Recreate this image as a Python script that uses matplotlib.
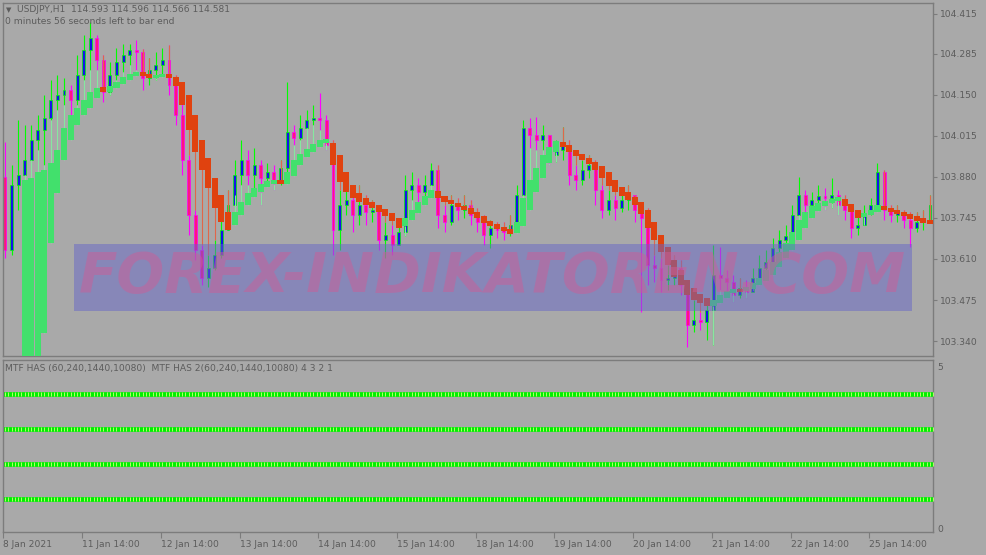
import numpy as np
import matplotlib.pyplot as plt
from matplotlib.patches import Rectangle

# USDJPY H1 chart (one entry = one 2-hour step)
first_open = 103.879
close = [103.639, 103.853, 103.886, 103.935, 104.001, 104.034, 104.073, 104.132, 104.149, 104.165,
         104.132, 104.214, 104.297, 104.336, 104.264, 104.159, 104.214, 104.257, 104.280, 104.297,
         104.290, 104.205, 104.231, 104.247, 104.264, 104.182, 104.083, 103.935, 103.754, 103.639,
         103.547, 103.580, 103.623, 103.705, 103.787, 103.886, 103.935, 103.886, 103.919, 103.876,
         103.896, 103.869, 103.909, 104.027, 104.007, 104.040, 104.067, 104.073, 104.067, 103.984,
         103.705, 103.787, 103.804, 103.754, 103.787, 103.764, 103.771, 103.672, 103.688, 103.656,
         103.698, 103.836, 103.853, 103.830, 103.853, 103.902, 103.754, 103.731, 103.787, 103.771,
         103.787, 103.754, 103.731, 103.688, 103.711, 103.705, 103.698, 103.721, 103.820, 104.040,
         104.017, 104.001, 104.017, 103.952, 103.968, 103.984, 103.886, 103.869, 103.902, 103.919,
         103.836, 103.771, 103.804, 103.777, 103.804, 103.820, 103.771, 103.744, 103.590, 103.580,
         103.541, 103.547, 103.580, 103.524, 103.393, 103.409, 103.403, 103.442, 103.557, 103.547,
         103.534, 103.491, 103.514, 103.501, 103.547, 103.580, 103.600, 103.646, 103.672, 103.685,
         103.754, 103.820, 103.787, 103.804, 103.817, 103.810, 103.820, 103.787, 103.771, 103.711,
         103.721, 103.761, 103.787, 103.896, 103.771, 103.754, 103.764, 103.738, 103.711, 103.731,
         103.738, 103.787]
high = [103.994, 103.919, 104.067, 104.050, 104.050, 104.083, 104.149, 104.198, 104.214, 104.205,
        104.182, 104.280, 104.346, 104.389, 104.346, 104.280, 104.257, 104.303, 104.316, 104.316,
        104.330, 104.300, 104.270, 104.290, 104.303, 104.313, 104.214, 104.149, 103.952, 103.771,
        103.656, 103.623, 103.672, 103.754, 103.836, 103.935, 104.001, 103.968, 103.975, 103.935,
        103.925, 103.919, 103.935, 104.191, 104.050, 104.083, 104.099, 104.116, 104.155, 104.083,
        104.001, 103.836, 103.853, 103.820, 103.853, 103.820, 103.804, 103.787, 103.731, 103.721,
        103.731, 103.886, 103.896, 103.876, 103.886, 103.925, 103.919, 103.787, 103.820, 103.810,
        103.820, 103.804, 103.777, 103.754, 103.738, 103.731, 103.731, 103.754, 103.853, 104.067,
        104.073, 104.076, 104.050, 104.017, 104.001, 104.044, 104.001, 103.919, 103.935, 103.952,
        103.935, 103.853, 103.836, 103.820, 103.836, 103.853, 103.820, 103.787, 103.777, 103.623,
        103.613, 103.590, 103.623, 103.606, 103.530, 103.475, 103.436, 103.475, 103.656, 103.649,
        103.574, 103.557, 103.547, 103.541, 103.580, 103.623, 103.639, 103.679, 103.705, 103.721,
        103.787, 103.879, 103.836, 103.830, 103.853, 103.843, 103.876, 103.836, 103.820, 103.787,
        103.764, 103.787, 103.810, 103.925, 103.902, 103.787, 103.787, 103.771, 103.764, 103.764,
        103.771, 103.820]
low = [103.613, 103.623, 103.771, 103.886, 103.935, 103.968, 103.919, 104.067, 104.099, 104.116,
       104.034, 104.116, 104.198, 104.231, 104.231, 104.126, 104.149, 104.198, 104.224, 104.247,
       104.231, 104.165, 104.182, 104.198, 104.214, 104.149, 104.050, 103.886, 103.688, 103.606,
       103.524, 103.518, 103.574, 103.613, 103.705, 103.820, 103.853, 103.853, 103.836, 103.787,
       103.853, 103.836, 103.853, 103.896, 103.984, 104.001, 104.040, 104.050, 104.034, 103.968,
       103.623, 103.639, 103.754, 103.698, 103.721, 103.721, 103.731, 103.639, 103.613, 103.623,
       103.656, 103.685, 103.804, 103.797, 103.817, 103.853, 103.711, 103.698, 103.720, 103.738,
       103.744, 103.721, 103.698, 103.656, 103.646, 103.679, 103.672, 103.685, 103.705, 103.820,
       103.975, 103.968, 103.968, 103.919, 103.929, 103.935, 103.853, 103.836, 103.853, 103.876,
       103.787, 103.744, 103.754, 103.738, 103.764, 103.771, 103.731, 103.435, 103.524, 103.534,
       103.501, 103.508, 103.524, 103.491, 103.320, 103.370, 103.376, 103.343, 103.327, 103.508,
       103.501, 103.468, 103.481, 103.481, 103.508, 103.534, 103.557, 103.600, 103.613, 103.639,
       103.672, 103.754, 103.764, 103.754, 103.787, 103.771, 103.777, 103.754, 103.738, 103.679,
       103.688, 103.721, 103.754, 103.771, 103.738, 103.731, 103.731, 103.711, 103.649, 103.698,
       103.705, 103.744]

# smoothed heiken ashi bodies (open / close)
has_open = [None, None, None,
            103.146, 103.146, 103.212, 103.366, 103.662, 103.827, 103.935, 104.001, 104.050, 104.083,
            104.106, 104.139, 104.175, 104.159, 104.172, 104.185, 104.198, 104.211, 104.224, 104.218,
            104.205, 104.208, 104.218, 104.208, 104.191, 104.149, 104.083, 104.001, 103.942, 103.876,
            103.820, 103.764, 103.721, 103.754, 103.787, 103.813, 103.830, 103.846, 103.856, 103.869,
            103.856, 103.883, 103.919, 103.945, 103.961, 103.978, 103.991, 103.991, 103.952, 103.896,
            103.853, 103.827, 103.810, 103.797, 103.787, 103.774, 103.761, 103.744, 103.718, 103.738,
            103.761, 103.787, 103.810, 103.833, 103.817, 103.804, 103.794, 103.784, 103.777, 103.764,
            103.751, 103.735, 103.725, 103.715, 103.708, 103.695, 103.718, 103.771, 103.830, 103.876,
            103.925, 103.961, 103.994, 103.984, 103.968, 103.955, 103.942, 103.929, 103.915, 103.896,
            103.869, 103.846, 103.830, 103.813, 103.797, 103.771, 103.731, 103.688, 103.649, 103.606,
            103.574, 103.541, 103.514, 103.495, 103.481, 103.455, 103.465, 103.481, 103.498, 103.511,
            103.504, 103.511, 103.524, 103.537, 103.557, 103.583, 103.613, 103.639, 103.672, 103.711,
            103.744, 103.767, 103.784, 103.794, 103.800, 103.807, 103.790, 103.771, 103.748, 103.754,
            103.764, 103.784, 103.777, 103.771, 103.764, 103.758, 103.751, 103.744, 103.738]
has_close = [None, None, None,
             103.869, 103.876, 103.896, 103.902, 103.925, 103.968, 104.040, 104.083, 104.106, 104.132,
             104.159, 104.172, 104.159, 104.178, 104.191, 104.208, 104.218, 104.224, 104.211, 104.205,
             104.211, 104.218, 104.205, 104.178, 104.116, 104.034, 103.961, 103.902, 103.843, 103.777,
             103.731, 103.705, 103.764, 103.797, 103.827, 103.843, 103.856, 103.866, 103.869, 103.856,
             103.896, 103.935, 103.955, 103.971, 103.988, 104.001, 104.004, 103.919, 103.863, 103.830,
             103.810, 103.797, 103.787, 103.777, 103.764, 103.751, 103.735, 103.711, 103.744, 103.771,
             103.797, 103.817, 103.836, 103.810, 103.797, 103.790, 103.781, 103.771, 103.758, 103.744,
             103.728, 103.718, 103.708, 103.702, 103.692, 103.731, 103.810, 103.869, 103.909, 103.952,
             103.978, 103.998, 103.978, 103.961, 103.948, 103.935, 103.922, 103.902, 103.876, 103.850,
             103.830, 103.817, 103.804, 103.787, 103.758, 103.711, 103.672, 103.633, 103.590, 103.551,
             103.524, 103.491, 103.475, 103.465, 103.455, 103.475, 103.491, 103.504, 103.511, 103.501,
             103.518, 103.531, 103.547, 103.574, 103.600, 103.633, 103.662, 103.698, 103.738, 103.764,
             103.784, 103.794, 103.800, 103.807, 103.813, 103.784, 103.764, 103.744, 103.761, 103.771,
             103.787, 103.771, 103.764, 103.758, 103.751, 103.741, 103.735, 103.728, 103.725]

# MTF HAS sub-window: four signal rows
levels = [4.17, 3.09, 2.01, 0.93]

price_ticks = [104.415, 104.285, 104.150, 104.015, 103.880, 103.745, 103.610, 103.475, 103.340]
date_labels = ['8 Jan 2021', '11 Jan 14:00', '12 Jan 14:00', '13 Jan 14:00', '14 Jan 14:00',
               '15 Jan 14:00', '18 Jan 14:00', '19 Jan 14:00', '20 Jan 14:00', '21 Jan 14:00',
               '22 Jan 14:00', '25 Jan 14:00']
bars_per_day = 12

BG = '#a9a9a9'
FRAME = '#7c7c7c'
TXT = '#5c5c5c'
FS = 6.6

c = np.array(close)
o = np.array([first_open] + close[:-1])
h = np.array(high)
l = np.array(low)
ho = np.array(has_open, dtype=float)
hc = np.array(has_close, dtype=float)
x = np.arange(len(c))

fig = plt.figure(figsize=(9.87, 5.55), dpi=100, facecolor=BG)
ax = fig.add_axes([3 / 987, 1 - 356 / 555, 930 / 987, 353 / 555], facecolor=BG)
ax2 = fig.add_axes([3 / 987, 1 - 532 / 555, 930 / 987, 172 / 555], facecolor=BG, sharex=ax)

# candles
bull = c >= o
bear = ~bull
ax.vlines(x[bull], l[bull], h[bull], colors='#00ff00', lw=0.8, zorder=2)
ax.vlines(x[bear], l[bear], h[bear], colors='#ff00ff', lw=0.8, zorder=2)
ax.bar(x[bull], np.maximum(c[bull] - o[bull], 0.002), bottom=o[bull], width=0.45,
       color='#1414e6', edgecolor='#00ff00', linewidth=0.5, zorder=2)
ax.bar(x[bear], np.maximum(o[bear] - c[bear], 0.002), bottom=c[bear], width=0.45,
       color='#ff1480', edgecolor='#ff00ff', linewidth=0.5, zorder=2)

# smoothed heiken ashi
ok = ~np.isnan(ho)
up = ok & (hc >= ho)
dn = ok & (hc < ho)
ax.vlines(x[up], l[up], ho[up], colors='#86e8a0', lw=0.8, zorder=3)
ax.vlines(x[dn], ho[dn], h[dn], colors='#e0664a', lw=0.8, zorder=3)
ax.bar(x[up], np.maximum(hc[up] - ho[up], 0.009), bottom=ho[up], width=0.92,
       color='#42e06c', linewidth=0, zorder=4)
ax.bar(x[dn], np.maximum(ho[dn] - hc[dn], 0.009), bottom=hc[dn], width=0.92,
       color='#e0420f', linewidth=0, zorder=4)

ax.set_xlim(-0.3, 141.46)
ax.set_ylim(103.291, 104.451)

# watermark
ax.add_patch(Rectangle((0.0763, 0.1275), 0.9011, 0.1898, transform=ax.transAxes,
                       facecolor='#6767c7', alpha=0.5, linewidth=0, zorder=5))
ax.text(0.526, 0.2224, 'FOREX-INDIKATOREN.COM', transform=ax.transAxes,
        ha='center', va='center', fontsize=40.5, fontweight='bold', style='italic',
        color='#cc5e98', alpha=0.5, zorder=6)

ax.yaxis.tick_right()
ax.set_yticks(price_ticks)
ax.set_yticklabels([f'{p:.3f}' for p in price_ticks])
ax.tick_params(axis='y', length=3, width=0.8, color=FRAME, labelcolor=TXT, labelsize=FS, pad=2)
ax.tick_params(axis='x', bottom=False, labelbottom=False)

# lower window
xx = np.arange(-0.5, len(c) + 0.5, 0.5)
for lv in levels:
    ax2.plot(xx, [lv] * len(xx), color='#00f000', lw=3.4, solid_capstyle='butt', zorder=2)
    ax2.plot(xx, [lv] * len(xx), ls='none', marker='|', ms=2.6, mew=0.7, color='#b6ff6a', zorder=3)
ax2.set_ylim(-0.093, 5.216)
ax2.yaxis.tick_right()
ax2.set_yticks([0, 5])
ax2.set_yticklabels(['0', '5'])
ax2.tick_params(axis='y', length=0, labelcolor=TXT, labelsize=FS, pad=3)
ax2.set_xticks(np.arange(len(date_labels)) * bars_per_day - 0.25)
ax2.set_xticklabels(date_labels, ha='left')
ax2.tick_params(axis='x', length=4, width=0.8, color=FRAME, labelcolor=TXT, labelsize=FS, pad=2)

for a in (ax, ax2):
    for s in a.spines.values():
        s.set_color(FRAME)
        s.set_linewidth(1)

fig.text(6 / 987, 1 - 10 / 555, '\u25bc', fontsize=5, color=TXT, va='center', ha='left')
fig.text(17 / 987, 1 - 10 / 555, 'USDJPY,H1  114.593 114.596 114.566 114.581',
         fontsize=FS, color=TXT, va='center', ha='left')
fig.text(5 / 987, 1 - 21 / 555, '0 minutes 56 seconds left to bar end',
         fontsize=FS, color=TXT, va='center', ha='left')
fig.text(5 / 987, 1 - 368 / 555, 'MTF HAS (60,240,1440,10080)  MTF HAS 2(60,240,1440,10080) 4 3 2 1',
         fontsize=FS, color=TXT, va='center', ha='left')

fig.savefig('out.png', dpi=100, facecolor=BG)
